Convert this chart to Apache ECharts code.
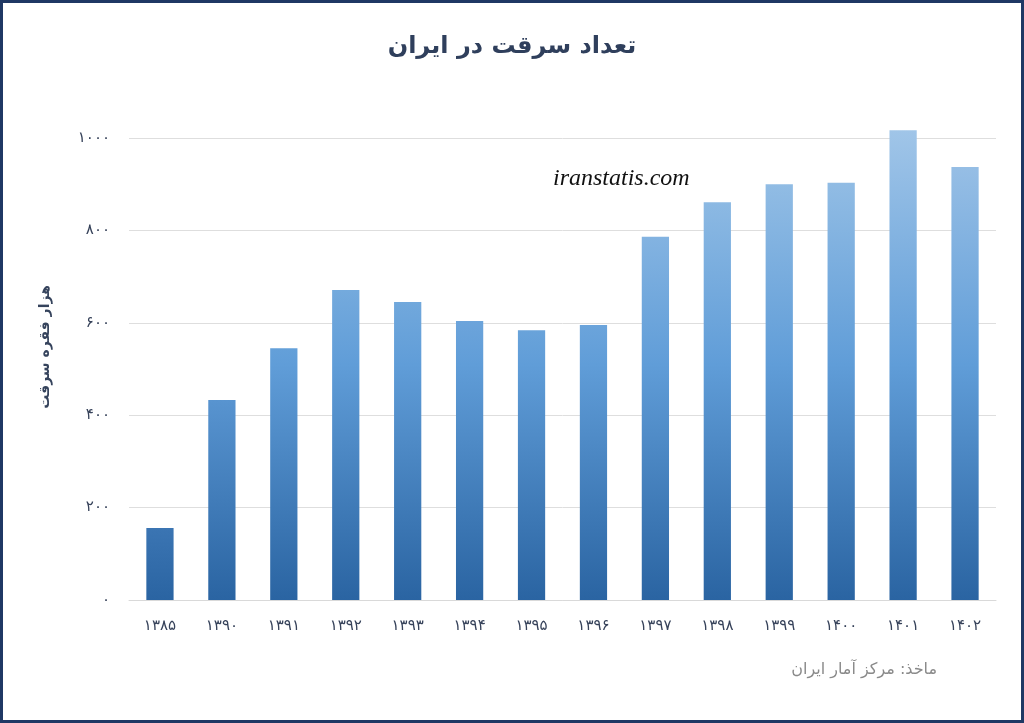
<!DOCTYPE html>
<html>
<head>
<meta charset="utf-8">
<script src="https://cdn.jsdelivr.net/npm/echarts@6/dist/echarts.min.js"></script>
<style>
html,body{margin:0;padding:0;background:#fff;}
#frame{position:absolute;left:0;top:0;width:1024px;height:723px;box-sizing:border-box;border:3px solid #1f3864;}
#chart{position:absolute;left:0;top:0;width:1024px;height:723px;}
</style>
</head>
<body>
<div id="chart"></div>
<div id="frame"></div>
<script>
const titleText = 'تعداد سرقت در ایران';
const yAxisTitle = 'هزار فقره سرقت';
const sourceText = 'ماخذ: مرکز آمار ایران';
const watermark = 'iranstatis.com';
const years = ['۱۳۸۵','۱۳۹۰','۱۳۹۱','۱۳۹۲','۱۳۹۳','۱۳۹۴','۱۳۹۵','۱۳۹۶','۱۳۹۷','۱۳۹۸','۱۳۹۹','۱۴۰۰','۱۴۰۱','۱۴۰۲'];
const thefts = [156, 433, 545, 671, 645, 604, 584, 595, 786, 861, 900, 903, 1017, 937];
const yTicks = [0, 200, 400, 600, 800, 1000];

const faDigits = '۰۱۲۳۴۵۶۷۸۹';
const toFa = s => String(s).replace(/[0-9]/g, d => faDigits[+d]);

const topRGB = [160, 197, 232];
const midRGB = [96, 157, 216];
const botRGB = [42, 100, 162];
const ref = 1020;
function lerp(a,b,t){ return a.map((v,i)=>Math.round(v + (b[i]-v)*t)); }
function mix(t){
  const c = t < 0.5 ? lerp(botRGB, midRGB, t/0.5) : lerp(midRGB, topRGB, (t-0.5)/0.5);
  return 'rgb(' + c.join(',') + ')';
}
const barData = thefts.map(v => {
  const f = Math.min(1, v/ref);
  const stops = [{offset:0, color: mix(f)}];
  if (f > 0.5) stops.push({offset: 1 - 0.5/f, color: mix(0.5)});
  stops.push({offset:1, color: mix(0)});
  return {value: v, itemStyle: {color: new echarts.graphic.LinearGradient(0,0,0,1,stops)}};
});

const chart = echarts.init(document.getElementById('chart'), null, {renderer:'canvas'});
chart.setOption({
  animation:false,
  backgroundColor:'#fff',
  title:{
    text:titleText, left:'center', top:30,
    textStyle:{fontFamily:'DejaVu Sans', fontWeight:'bold', fontSize:24, color:'#2f3f5c'}
  },
  grid:{left:129, right:28, top:138, bottom:123},
  xAxis:{
    type:'category', data:years,
    axisLine:{lineStyle:{color:'#d9d9d9', width:1}},
    axisTick:{show:false},
    axisLabel:{margin:19, fontSize:15, color:'#36425a', fontFamily:'DejaVu Sans'}
  },
  yAxis:{
    type:'value', min:yTicks[0], max:yTicks[yTicks.length-1], interval:200,
    axisLine:{show:false}, axisTick:{show:false},
    splitLine:{lineStyle:{color:'#dedede', width:1}},
    axisLabel:{margin:19, fontSize:15, color:'#36425a', fontFamily:'DejaVu Sans', formatter:v=>toFa(v)}
  },
  series:[{
    type:'bar', data:barData, barWidth:'44%', clip:false
  }],
  graphic:[
    {type:'text', left:553, top:167, style:{text:watermark, font:'italic 24px "Liberation Serif"', fill:'#111'}},
    {type:'text', right:87, top:662, style:{text:sourceText, font:'16px "DejaVu Sans"', fill:'#8a8a8a'}},
    {type:'text', x:45, y:347, rotation:Math.PI/2, style:{text:yAxisTitle, font:'bold 14px "DejaVu Sans"', fill:'#35435c', align:'center', verticalAlign:'middle'}}
  ]
});
</script>
</body>
</html>
